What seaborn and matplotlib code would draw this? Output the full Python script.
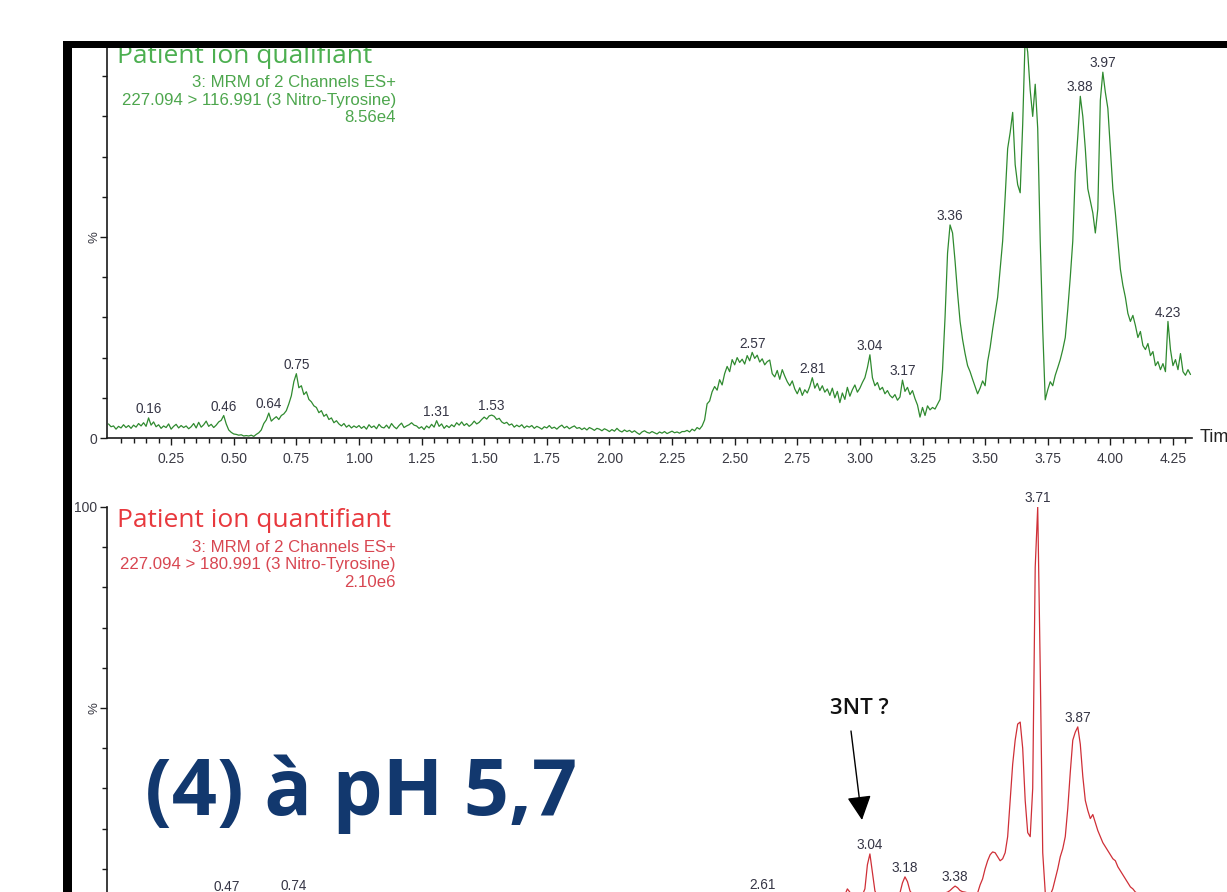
import numpy as np
import pandas as pd
import matplotlib
matplotlib.use("Agg")
import matplotlib.pyplot as plt
import seaborn as sns
from matplotlib.patches import Rectangle

# ---------------- data ----------------
# sampling grid of the chromatograms (minutes)
t_start = 0.0
t_step = 0.01

# Patient ion qualifiant, 227.094 > 116.991, relative intensity (%)
green_pct = [
    3.5, 2.8, 3.0, 2.2, 2.9, 2.5, 3.3, 2.6, 3.1, 2.4,
    3.2, 2.7, 3.6, 3.0, 3.8, 2.9, 5.0, 3.2, 4.0, 2.8,
    3.3, 2.4, 3.0, 2.6, 3.5, 2.2, 2.9, 3.4, 2.5, 3.1,
    2.6, 3.0, 2.3, 2.8, 3.6, 2.5, 3.9, 2.7, 3.3, 4.2,
    2.9, 3.4, 2.6, 3.2, 4.0, 4.4, 5.6, 3.5, 2.0, 1.4,
    1.0, 0.9, 0.7, 0.8, 0.5, 0.6, 0.5, 0.7, 0.4, 0.9,
    1.3, 2.0, 3.6, 4.5, 6.2, 4.2, 4.8, 5.3, 4.6, 5.6,
    6.0, 6.8, 8.5, 10.5, 14.0, 16.0, 12.5, 13.0, 10.8, 11.5,
    9.6, 9.0, 8.0, 7.6, 6.3, 6.8, 5.4, 5.9, 4.6, 5.0,
    3.8, 4.3, 3.5, 3.0, 3.6, 2.7, 3.2, 2.5, 3.0, 2.6,
    3.1, 2.4, 2.9, 2.2, 3.3, 2.6, 3.0, 2.3, 3.4, 2.7,
    2.5, 3.2, 2.4, 3.6, 2.8, 2.3, 3.1, 3.7, 2.6, 3.0,
    3.3, 3.8, 3.2, 3.0, 2.4, 2.8, 2.1, 3.0, 2.5, 3.4,
    2.7, 4.3, 2.9, 3.5, 2.4, 3.1, 2.6, 3.3, 2.8, 3.8,
    3.2, 4.0, 3.1, 3.6, 2.9, 3.4, 4.2, 3.5, 3.9, 4.6,
    5.2, 4.7, 5.5, 5.7, 5.4, 4.6, 4.9, 4.0, 3.6, 3.9,
    3.2, 3.5, 2.7, 3.2, 2.8, 3.3, 2.5, 3.0, 2.7, 3.1,
    2.4, 2.9, 2.6, 2.2, 2.8, 2.5, 3.1, 2.4, 2.7, 2.2,
    2.8, 3.2, 2.5, 2.9, 2.3, 2.7, 3.0, 2.4, 2.6, 2.1,
    2.5, 2.0, 2.6, 2.3, 1.9, 2.4, 2.2, 1.8, 2.3, 2.0,
    1.6, 2.1, 1.7, 2.4, 1.8, 1.5, 2.0, 1.6, 1.9, 1.4,
    1.8, 1.3, 0.9, 1.5, 1.8, 1.4, 1.2, 1.6, 1.3, 1.0,
    1.5, 1.2, 1.6, 1.1, 1.4, 1.7, 1.3, 1.5, 1.2, 1.6,
    1.6, 1.9, 1.5, 2.2, 1.8, 2.6, 2.2, 3.0, 4.5, 8.5,
    9.2, 11.5, 12.8, 11.9, 14.5, 13.2, 16.0, 17.8, 16.5, 19.5,
    18.2, 20.0, 18.8, 19.6, 18.4, 20.5, 19.2, 21.3, 19.8, 20.6,
    18.9, 19.7, 18.2, 19.0, 19.4, 16.0, 15.2, 16.8, 14.6, 17.0,
    15.4, 14.0, 13.0, 14.2, 12.2, 11.0, 12.5, 10.6, 12.0, 11.2,
    12.8, 15.0, 12.4, 13.6, 11.8, 13.0, 11.4, 12.2, 10.6, 12.4,
    10.0, 11.6, 8.8, 11.2, 9.6, 12.6, 10.4, 12.0, 13.2, 11.4,
    12.4, 13.8, 15.0, 17.5, 20.7, 15.0, 13.0, 13.8, 12.0, 12.6,
    11.0, 11.8, 10.6, 10.0, 10.8, 9.4, 10.2, 14.4, 11.6, 12.6,
    10.8, 11.8, 9.8, 8.2, 5.2, 7.6, 5.6, 8.0, 7.0, 7.6,
    7.2, 8.4, 9.6, 17.0, 30.0, 46.0, 53.0, 51.0, 44.0, 36.0,
    29.0, 24.5, 21.0, 18.0, 16.5, 14.6, 12.8, 11.0, 12.4, 14.2,
    13.0, 19.0, 22.5, 27.0, 31.0, 35.0, 42.0, 49.0, 60.0, 72.0,
    76.0, 81.0, 68.0, 63.0, 61.0, 78.0, 100.0, 96.0, 86.5, 80.0,
    88.0, 77.0, 49.0, 27.0, 9.5, 12.0, 14.0, 13.0, 15.6, 17.5,
    19.5, 22.0, 25.0, 32.0, 40.0, 49.0, 66.0, 75.0, 85.0, 80.0,
    72.0, 62.0, 59.0, 56.0, 51.0, 57.0, 84.0, 91.0, 86.0, 82.0,
    72.0, 62.0, 56.0, 49.0, 42.0, 38.0, 35.0, 31.0, 29.0, 30.5,
    28.0, 25.0, 26.5, 23.0, 22.0, 23.5, 20.5, 21.5, 18.0, 19.0,
    17.0, 18.5, 16.5, 29.0, 22.0, 18.0, 19.5, 17.0, 21.0, 16.5,
    15.6, 17.0, 15.8,
]

# Patient ion quantifiant, 227.094 > 180.991, relative intensity (%)
red_pct = [
    1.6, 1.3, 1.8, 1.4, 1.2, 1.7, 1.5, 1.9, 1.3, 1.6,
    1.4, 1.8, 1.5, 1.2, 1.6, 1.9, 1.4, 1.7, 1.3, 1.5,
    1.8, 1.4, 1.6, 1.2, 1.5, 1.7, 1.3, 1.6, 1.9, 1.4,
    1.5, 1.8, 1.3, 1.6, 1.4, 1.7, 1.5, 1.9, 1.6, 1.8,
    1.9, 2.1, 2.0, 2.3, 2.5, 2.8, 3.0, 3.2, 2.7, 2.2,
    1.9, 1.7, 1.5, 1.6, 1.4, 1.5, 1.3, 1.6, 1.4, 1.7,
    1.6, 1.9, 2.0, 2.2, 2.1, 2.4, 2.3, 2.6, 2.5, 2.8,
    2.9, 3.0, 3.2, 3.3, 3.4, 3.1, 2.9, 2.7, 2.5, 2.3,
    2.2, 2.0, 1.9, 1.8, 1.7, 1.8, 1.6, 1.7, 1.5, 1.6,
    1.5, 1.7, 1.4, 1.6, 1.5, 1.3, 1.6, 1.4, 1.5, 1.3,
    1.4, 1.6, 1.3, 1.5, 1.4, 1.7, 1.5, 1.3, 1.6, 1.4,
    1.5, 1.3, 1.6, 1.4, 1.5, 1.7, 1.4, 1.6, 1.3, 1.5,
    1.6, 1.4, 1.5, 1.3, 1.7, 1.5, 1.4, 1.6, 1.5, 1.3,
    1.5, 1.7, 1.6, 1.4, 1.5, 1.3, 1.6, 1.4, 1.5, 1.7,
    1.6, 1.5, 1.7, 1.8, 1.6, 1.9, 1.8, 2.0, 1.9, 2.1,
    2.0, 2.2, 2.1, 2.3, 2.2, 2.0, 1.9, 1.8, 1.7, 1.6,
    1.5, 1.6, 1.4, 1.5, 1.3, 1.5, 1.4, 1.6, 1.3, 1.4,
    1.5, 1.3, 1.4, 1.6, 1.4, 1.3, 1.5, 1.4, 1.2, 1.4,
    1.3, 1.5, 1.4, 1.2, 1.4, 1.3, 1.5, 1.3, 1.4, 1.2,
    1.4, 1.3, 1.2, 1.4, 1.3, 1.5, 1.3, 1.2, 1.4, 1.3,
    1.2, 1.4, 1.3, 1.5, 1.3, 1.2, 1.4, 1.3, 1.5, 1.4,
    1.3, 1.5, 1.4, 1.6, 1.4, 1.5, 1.7, 1.5, 1.6, 1.8,
    1.7, 1.9, 1.8, 2.0, 1.9, 2.1, 2.0, 2.2, 2.1, 2.3,
    2.2, 2.4, 2.3, 2.5, 2.4, 2.6, 2.5, 2.7, 2.6, 2.8,
    2.7, 2.9, 2.8, 3.0, 2.9, 3.1, 3.0, 3.2, 3.1, 3.3,
    3.2, 3.3, 3.1, 3.4, 3.3, 3.5, 3.4, 3.3, 3.5, 3.6,
    3.5, 3.7, 3.5, 3.4, 3.2, 3.3, 3.1, 3.0, 2.9, 3.0,
    2.8, 2.9, 2.7, 2.8, 2.6, 2.7, 2.5, 2.6, 2.7, 2.5,
    2.6, 2.8, 2.7, 2.9, 2.8, 3.0, 2.9, 2.8, 3.0, 3.1,
    2.9, 3.0, 3.2, 3.4, 3.5, 5.0, 4.2, 3.0, 3.2, 3.5,
    3.0, 3.5, 5.0, 11.0, 13.7, 9.0, 4.5, 3.2, 3.0, 2.8,
    2.9, 3.0, 3.1, 3.3, 3.2, 3.4, 4.0, 6.5, 8.0, 6.8,
    4.5, 3.6, 3.3, 3.2, 3.4, 3.3, 3.5, 3.4, 3.6, 3.5,
    3.7, 3.6, 3.8, 3.7, 4.0, 4.2, 4.6, 5.2, 5.7, 5.3,
    4.6, 4.3, 4.2, 4.0, 3.9, 3.8, 3.9, 4.0, 6.0, 7.5,
    10.0, 12.0, 13.5, 14.2, 14.0, 13.0, 12.0, 12.5, 14.0, 18.0,
    27.0, 36.0, 42.0, 46.0, 46.5, 40.0, 27.0, 19.0, 18.0, 30.0,
    85.0, 100.0, 60.0, 14.0, 4.0, 3.0, 3.5, 5.0, 7.5, 10.0,
    13.0, 15.0, 18.0, 25.0, 34.0, 42.0, 44.0, 45.3, 41.0, 33.0,
    27.0, 24.5, 22.5, 23.5, 21.5, 19.5, 18.0, 16.5, 15.5, 14.5,
    13.5, 12.5, 12.0, 10.5, 9.5, 8.5, 7.5, 6.5, 5.5, 5.0,
    4.2, 3.9, 3.7, 3.5, 3.4, 3.2, 3.3, 3.1, 3.0, 3.1,
    2.9, 3.0, 2.8, 2.9, 2.7, 2.8, 2.6, 2.7, 2.5, 2.6,
    2.5, 2.4, 2.5,
]

green_peak_labels = ["0.16", "0.46", "0.64", "0.75", "1.31", "1.53", "2.57",
                     "2.81", "3.04", "3.17", "3.36", "3.88", "3.97", "4.23"]
red_peak_labels = ["0.47", "0.74", "2.61", "3.04", "3.18", "3.38", "3.71", "3.87"]

x_tick_labels = ["0.25", "0.50", "0.75", "1.00", "1.25", "1.50", "1.75", "2.00",
                 "2.25", "2.50", "2.75", "3.00", "3.25", "3.50", "3.75", "4.00", "4.25"]
top_y_labels = ["0", "", "100"]
bottom_y_labels = ["", "", "100"]

green_header = ["3: MRM of 2 Channels ES+", "227.094 > 116.991 (3 Nitro-Tyrosine)", "8.56e4"]
red_header = ["3: MRM of 2 Channels ES+", "227.094 > 180.991 (3 Nitro-Tyrosine)", "2.10e6"]

# ---------------- styling ----------------
sns.set_theme(style="white")
plt.rcParams["font.family"] = ["Liberation Sans", "DejaVu Sans"]

W, H = 1227, 892
fig = plt.figure(figsize=(W / 100, H / 100), dpi=100, facecolor="white")


def fx(px):
    return px / W


def fy(py):
    return 1 - py / H


AX_L, AX_R = 107, 1192
AX_H = 402

ax_top = fig.add_axes([fx(AX_L), fy(438), (AX_R - AX_L) / W, AX_H / H])
ax_bot = fig.add_axes([fx(AX_L), fy(909), (AX_R - AX_L) / W, AX_H / H])

GREEN_LINE = "#2f8a2f"
RED_LINE = "#cf2f37"
LABEL_COL = "#353545"
TICK_COL = "#3a3a44"


def make_df(vals):
    t = t_start + t_step * np.arange(len(vals))
    return pd.DataFrame({"time": t, "pct": vals})


def style_axis(ax, ylabels, show_xlabels=True):
    ax.set_xlim(-0.006, 4.326)
    ax.set_ylim(0, 100)
    ax.set_xlabel("")
    ax.set_ylabel("")
    for s in ["top", "right"]:
        ax.spines[s].set_visible(False)
    for s in ["left", "bottom"]:
        ax.spines[s].set_color("#1a1a1a")
        ax.spines[s].set_linewidth(1.2)
    ax.set_xticks([float(s) for s in x_tick_labels])
    ax.set_xticklabels(x_tick_labels)
    ax.set_xticks(np.round(np.arange(0.05, 4.31, 0.05), 2), minor=True)
    ax.set_yticks([0, 50, 100])
    ax.set_yticklabels(ylabels)
    ax.set_yticks([10, 20, 30, 40, 60, 70, 80, 90], minor=True)
    ax.tick_params(axis="both", which="major", direction="out", length=5, width=1,
                   color="#1a1a1a", labelcolor=TICK_COL, labelsize=10, pad=2,
                   bottom=True, left=True)
    ax.tick_params(axis="x", which="major", pad=5, labelbottom=show_xlabels)
    ax.tick_params(axis="both", which="minor", direction="out", length=3.5, width=1,
                   color="#1a1a1a", bottom=True, left=True)
    ax.annotate("%", xy=(0, 50), xycoords=("axes fraction", "data"), xytext=(-9, 0),
                textcoords="offset points", rotation=90, ha="center", va="center",
                fontsize=9.5, color=TICK_COL)
    ax.set_facecolor("none")


def label_peaks(ax, df, labels):
    for lab in labels:
        t = float(lab)
        i = int(np.argmin(np.abs(df["time"].values - t)))
        y = df["pct"].values[max(i - 1, 0):i + 2].max()
        ax.annotate(lab, xy=(t, y), xytext=(0, 3.5), textcoords="offset points",
                    ha="center", va="baseline", fontsize=9.8, color=LABEL_COL,
                    annotation_clip=False)


df_g = make_df(green_pct)
df_r = make_df(red_pct)

sns.lineplot(data=df_g, x="time", y="pct", ax=ax_top, color=GREEN_LINE, linewidth=0.9)
sns.lineplot(data=df_r, x="time", y="pct", ax=ax_bot, color=RED_LINE, linewidth=0.9)

style_axis(ax_top, top_y_labels, True)
style_axis(ax_bot, bottom_y_labels, False)
label_peaks(ax_top, df_g, green_peak_labels)
label_peaks(ax_bot, df_r, red_peak_labels)

# x-axis title (cut by the right edge, as in the screenshot)
fig.text(fx(1200), fy(438), "Time", ha="left", va="center", fontsize=13, color="#222222")

# panel headers
TITLE_FONT = ["Open Sans", "DejaVu Sans"]
fig.text(fx(117), fy(63), "Patient ion qualifiant", family=TITLE_FONT, fontsize=19,
         color="#4caf50", ha="left", va="baseline")
fig.text(fx(117), fy(527), "Patient ion quantifiant", family=TITLE_FONT, fontsize=19,
         color="#e8383d", ha="left", va="baseline")
for k, line in enumerate(green_header):
    fig.text(fx(396), fy(82.5 + 17.5 * k), line, ha="right", va="center", fontsize=12.1,
             color="#4da64d")
for k, line in enumerate(red_header):
    fig.text(fx(396), fy(547.5 + 17.5 * k), line, ha="right", va="center", fontsize=12.1,
             color="#d84651")

# big overlay caption
fig.text(fx(145), fy(815), "(4) à pH 5,7", family=TITLE_FONT, fontweight="bold",
         fontsize=57, color="#12386e", ha="left", va="baseline")

# annotation "3NT ?" with arrow
fig.text(fx(859), fy(708), "3NT ?", family=TITLE_FONT, fontweight="semibold",
         fontsize=16, color="#111111", ha="center", va="center")
ax_bot.annotate("", xy=(fx(862), fy(820)), xycoords="figure fraction",
                xytext=(fx(851), fy(731)), textcoords="figure fraction",
                arrowprops=dict(arrowstyle="-|>,head_length=1.0,head_width=0.5",
                                mutation_scale=15, color="black", lw=1.0,
                                shrinkA=0, shrinkB=0))

# screenshot frame: white margin + thick black border (top and left)
fig.add_artist(Rectangle((0, fy(41)), 1, 1 - fy(41), transform=fig.transFigure,
                         facecolor="white", edgecolor="none", zorder=20))
fig.add_artist(Rectangle((0, 0), fx(63), 1, transform=fig.transFigure,
                         facecolor="white", edgecolor="none", zorder=20))
fig.add_artist(Rectangle((fx(63), fy(48)), 1 - fx(63), 7 / H, transform=fig.transFigure,
                         facecolor="black", edgecolor="none", zorder=21))
fig.add_artist(Rectangle((fx(63), 0), 9 / W, fy(41), transform=fig.transFigure,
                         facecolor="black", edgecolor="none", zorder=21))

fig.savefig("out.png", dpi=100, facecolor="white")
